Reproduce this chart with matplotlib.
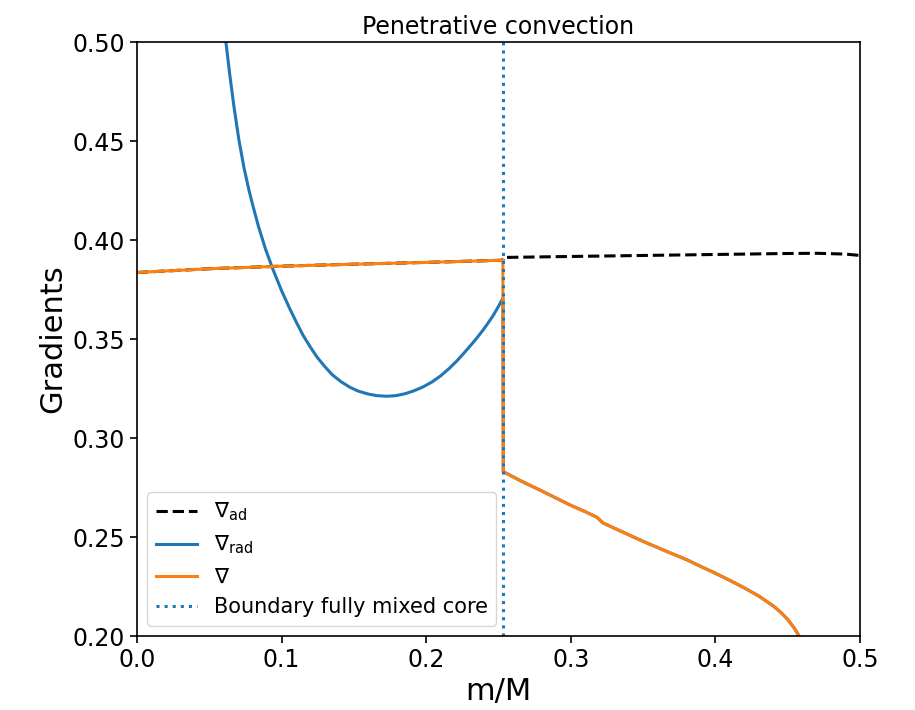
import matplotlib
matplotlib.use("Agg")
import matplotlib.pyplot as plt

# --- data ---
m_nabla = [0.0, 0.05, 0.10, 0.15, 0.20, 0.2530, 0.2533, 0.265, 0.2787, 0.29, 0.30, 0.31,
           0.318, 0.3223, 0.33, 0.35, 0.36, 0.37, 0.38, 0.39, 0.40, 0.41, 0.42, 0.43, 0.44,
           0.445, 0.45, 0.455, 0.458, 0.462]
nabla = [0.3836, 0.3855, 0.3868, 0.3878, 0.3887, 0.3898, 0.2830, 0.2785, 0.2737, 0.2696,
         0.2660, 0.2628, 0.2600, 0.2571, 0.2545, 0.2478, 0.2447, 0.2416, 0.2386, 0.2351,
         0.2317, 0.2281, 0.2243, 0.2202, 0.2152, 0.2121, 0.2084, 0.2035, 0.1998, 0.1940]

m_ad = [0.0, 0.05, 0.10, 0.15, 0.20, 0.2530, 0.2535, 0.30, 0.35, 0.40, 0.45, 0.47, 0.49, 0.50]
nabla_ad = [0.3836, 0.3855, 0.3868, 0.3878, 0.3887, 0.3898, 0.3912, 0.3917, 0.3922, 0.3927,
            0.3932, 0.3933, 0.3929, 0.3922]

m_rad = [0.0615, 0.064, 0.067, 0.0705, 0.074, 0.0775, 0.0802, 0.084, 0.089, 0.094, 0.100,
         0.1058, 0.110, 0.115, 0.120, 0.1245, 0.130, 0.135, 0.141, 0.1473, 0.153, 0.160,
         0.166, 0.1729, 0.179, 0.185, 0.191, 0.1978, 0.204, 0.210, 0.216, 0.2213, 0.226,
         0.231, 0.235, 0.2393, 0.243, 0.246, 0.249, 0.2524, 0.2531,
         0.2533, 0.265, 0.2787, 0.29, 0.30, 0.31, 0.318, 0.3223, 0.33, 0.35, 0.36, 0.37,
         0.38, 0.39, 0.40, 0.41, 0.42, 0.43, 0.44, 0.445, 0.45, 0.455, 0.458, 0.462]
nabla_rad = [0.500, 0.4845, 0.4677, 0.4505, 0.4365, 0.4250, 0.4172, 0.4069, 0.3952, 0.3852,
             0.3744, 0.3651, 0.3588, 0.3517, 0.3458, 0.3409, 0.3360, 0.3320, 0.3285, 0.3256,
             0.3237, 0.3222, 0.3214, 0.3211, 0.3214, 0.3223, 0.3237, 0.3258, 0.3283, 0.3314,
             0.3352, 0.3390, 0.3428, 0.3470, 0.3505, 0.3545, 0.3583, 0.3615, 0.3652, 0.3697,
             0.3705,
             0.2830, 0.2785, 0.2737, 0.2696, 0.2660, 0.2628, 0.2600, 0.2571, 0.2545, 0.2478,
             0.2447, 0.2416, 0.2386, 0.2351, 0.2317, 0.2281, 0.2243, 0.2202, 0.2152, 0.2121,
             0.2084, 0.2035, 0.1998, 0.1940]

boundary = 0.2531

labels = [r'$\nabla_{\rm ad}$', r'$\nabla_{\rm rad}$', r'$\nabla$', 'Boundary fully mixed core']

fig = plt.figure(figsize=(9.15, 7.10), dpi=100)
ax = fig.add_axes([0.1497, 0.1042, 0.7902, 0.8366])

ax.plot(m_ad, nabla_ad, color='black', linestyle='--', lw=2.2, label=labels[0])
ax.plot(m_rad, nabla_rad, color='#1f77b4', lw=2.2, label=labels[1])
ax.plot(m_nabla, nabla, color='#ff7f0e', lw=2.2, label=labels[2])
ax.axvline(boundary, color='#1f77b4', linestyle=':', lw=2.2, label=labels[3])

ax.set_xlim(0, 0.5)
ax.set_ylim(0.2, 0.5)
ax.set_xticks([0.0, 0.1, 0.2, 0.3, 0.4, 0.5])
ax.set_yticks([0.20, 0.25, 0.30, 0.35, 0.40, 0.45, 0.50])
ax.tick_params(labelsize=17, width=1.2, length=5)
for s in ax.spines.values():
    s.set_linewidth(1.2)

ax.set_xlabel('m/M', fontsize=22)
ax.set_ylabel('Gradients', fontsize=22)
ax.set_title('Penetrative convection', fontsize=17)
ax.legend(loc='lower left', fontsize=15)

fig.savefig('out.png', dpi=100)
